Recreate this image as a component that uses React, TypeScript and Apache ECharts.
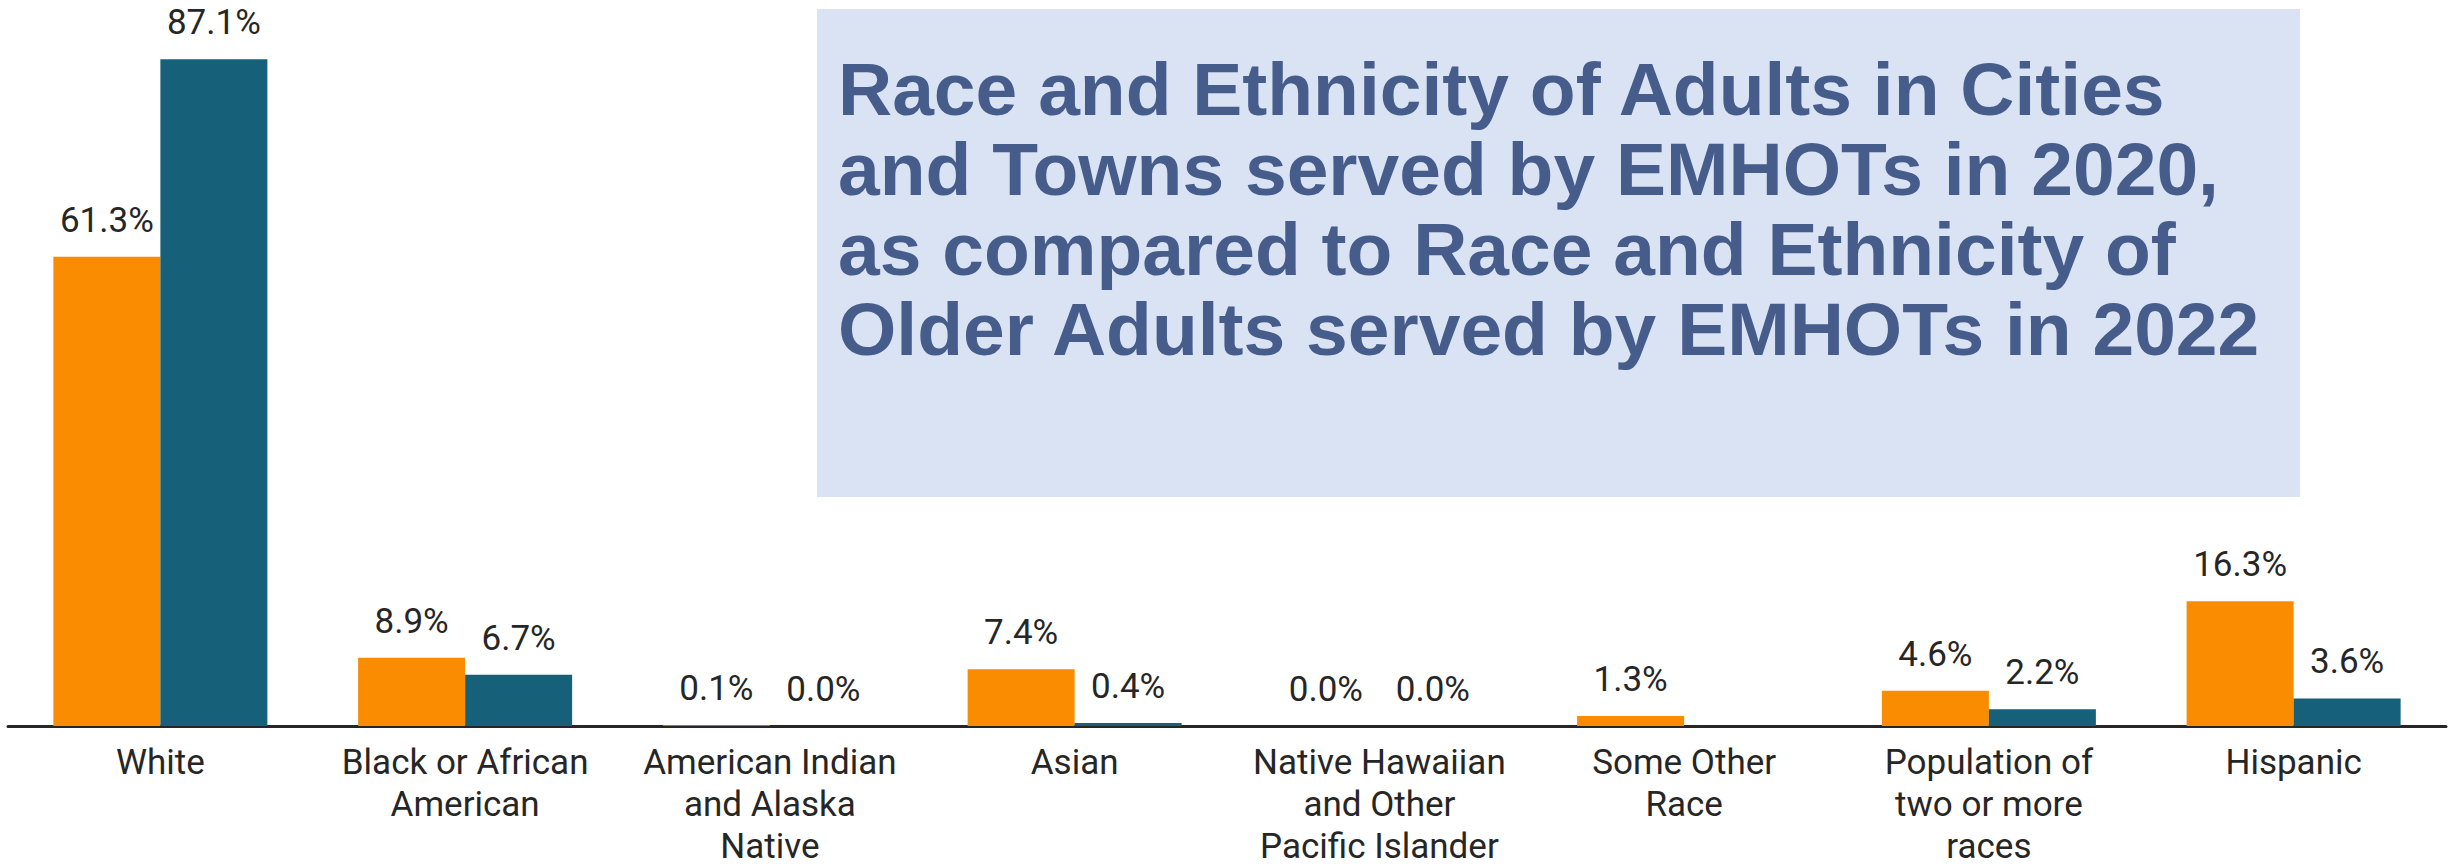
import React, { useEffect, useRef } from "react";
import * as echarts from "echarts";

const categories = [
  "White",
  "Black or African\nAmerican",
  "American Indian\nand Alaska\nNative",
  "Asian",
  "Native Hawaiian\nand Other\nPacific Islander",
  "Some Other\nRace",
  "Population of\ntwo or more\nraces",
  "Hispanic",
];
const cities2020 = [61.3, 8.9, 0.1, 7.4, 0.0, 1.3, 4.6, 16.3];
const emhot2022: (number | null)[] = [87.1, 6.7, 0.0, 0.4, 0.0, null, 2.2, 3.6];
const titleLines = [
  "Race and Ethnicity of Adults in Cities",
  "and Towns served by EMHOTs in 2020,",
  "as compared to Race and Ethnicity of",
  "Older Adults served by EMHOTs in 2022",
];

export default function App() {
  const ref = useRef<HTMLDivElement>(null);
  useEffect(() => {
    if (!ref.current) return;
    const chart = echarts.init(ref.current, null, { renderer: "svg" });
    const label = {
      show: true,
      position: "top",
      distance: 19,
      fontFamily: "Roboto",
      fontSize: 35,
      lineHeight: 35,
      color: "#262626",
      formatter: (p: any) => (p.value == null ? "" : Number(p.value).toFixed(1) + "%"),
    };
    chart.setOption({
      animation: false,
      backgroundColor: "#ffffff",
      grid: { left: 8, right: 2, top: 37, height: 690.5, containLabel: false },
      xAxis: {
        type: "category",
        data: categories,
        axisLine: { show: true, lineStyle: { color: "#262626", width: 3 } },
        axisTick: { show: false },
        axisLabel: {
          interval: 0,
          margin: 15,
          fontFamily: "Roboto",
          fontSize: 35,
          lineHeight: 42,
          color: "#262626",
        },
      },
      yAxis: {
        type: "value",
        min: 0,
        max: 90,
        show: false,
        splitLine: { show: false },
      },
      series: [
        {
          name: "Cities and Towns 2020",
          type: "bar",
          data: cities2020,
          barWidth: 107,
          barGap: "0%",
          itemStyle: { color: "#F98C00" },
          label,
        },
        {
          name: "EMHOTs 2022",
          type: "bar",
          data: emhot2022,
          barWidth: 107,
          barGap: "0%",
          itemStyle: { color: "#176079" },
          label,
        },
      ],
      graphic: [
        {
          type: "rect",
          shape: { x: 817, y: 9, width: 1483, height: 488 },
          style: { fill: "#DAE3F3" },
          z: 0,
        },
        {
          type: "text",
          x: 838,
          y: 49,
          z: 1,
          style: {
            text: titleLines.join("\n"),
            fontFamily: "'Liberation Sans', Arial, sans-serif",
            fontWeight: "bold",
            fontSize: 75,
            lineHeight: 80,
            fill: "#465D8C",
            align: "left",
            verticalAlign: "top",
          },
        },
      ],
    });
    return () => chart.dispose();
  }, []);
  return (
    <div
      ref={ref}
      style={{ position: "fixed", left: 0, top: 0, width: 2448, height: 867, background: "#fff" }}
    />
  );
}
